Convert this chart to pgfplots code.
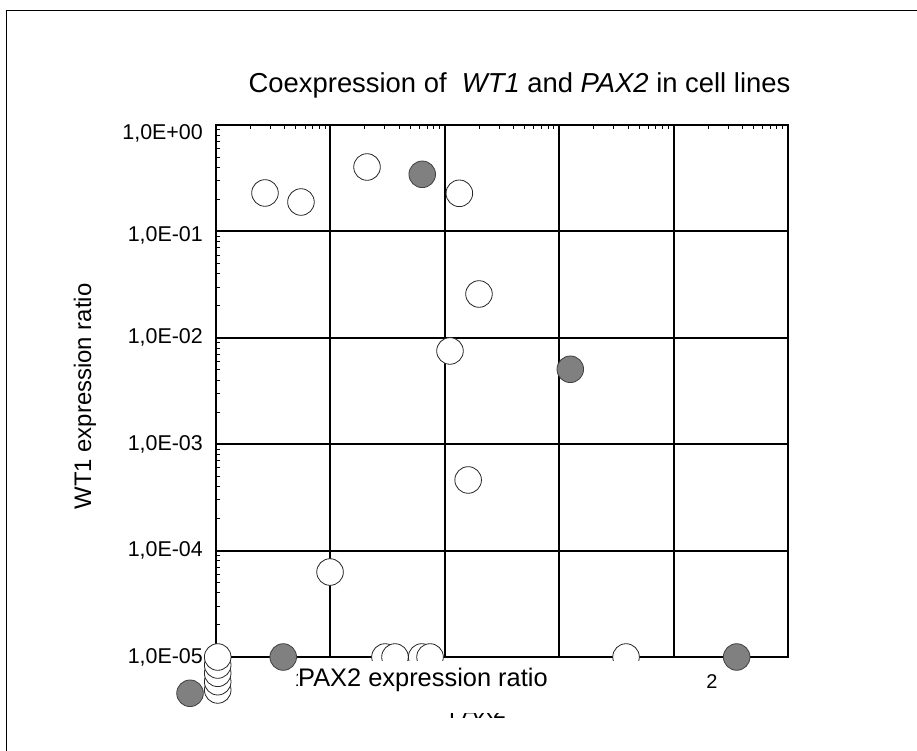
\documentclass[border=0pt]{standalone}
\usepackage{fontspec}
\setmainfont{Liberation Sans}
\usepackage{pgfplots}
\pgfplotsset{compat=1.18}
\begin{document}
\begin{tikzpicture}[x=1bp,y=1bp]
\useasboundingbox (0,0) rectangle (917,751);
\draw[line width=1.2bp] (6.5,0) -- (6.5,740.5) -- (917,740.5);
\begin{axis}[
  at={(216bp,94bp)}, anchor=south west,
  scale only axis, width=572bp, height=532bp,
  xmode=log, ymode=log,
  xmin=1e-3, xmax=1e2, ymin=1e-5, ymax=1,
  xtick={1e-3,1e-2,1e-1,1,1e1,1e2},
  ytick={1e-5,1e-4,1e-3,1e-2,1e-1,1},
  yticklabels={{1,0E-05},{1,0E-04},{1,0E-03},{1,0E-02},{\raisebox{-10.5bp}[0pt][0pt]{1,0E-01}},{\raisebox{-15bp}[0pt][0pt]{1,0E+00}}},
  xticklabels={,,,,,,},
  grid=major, major grid style={line width=2bp, black},
  axis line style={line width=2bp, black},
  tick align=inside, xtick pos=right, ytick pos=left,
  major tick length=0pt, minor tick length=4bp,
  every minor tick/.style={line width=1bp, black},
  yticklabel style={font=\fontsize{21.5}{25}\selectfont, inner sep=0pt, xshift=-13bp},
  clip=false,
]
\addplot[only marks, mark=*, mark size=13.3bp,
  mark options={fill=white, draw=black!85, line width=0.8bp}] coordinates {
  (1.035e-3,4.90e-6) (1.035e-3,5.86e-6) (1.035e-3,7.03e-6) (1.035e-3,8.41e-6) (1.035e-3,1.0e-5)
  (2.68e-3,0.2296) (5.53e-3,0.1889) (0.0209,0.4029) (0.134,0.228)
  (0.199,0.0258) (0.111,0.00752) (0.160,4.61e-4) (9.93e-3,6.29e-5)
  (0.0300,1e-5) (0.0367,1e-5) (0.0628,1e-5) (0.0743,1e-5) (3.84,1e-5)
};
\addplot[only marks, mark=*, mark size=13.3bp,
  mark options={fill=black!50, draw=black!75, line width=0.8bp}] coordinates {
  (0.0635,0.344) (1.25,5.06e-3) (3.87e-3,1e-5) (35.6,1e-5) (5.93e-4,4.56e-6)
};
\end{axis}
\node[font=\fontsize{20}{24}\selectfont] at (300.5,71) {1};
\node[font=\fontsize{20}{24}\selectfont] at (712,69.3) {2};
\node[anchor=base, inner sep=0pt, font=\fontsize{23}{27}\selectfont] at (477.5,32.5) {PAX2};
\fill[white] (298,38) rectangle (650,90);
\node[anchor=base west, inner sep=0pt, font=\fontsize{25.5}{30}\selectfont] at (298,64.3) {PAX2 expression ratio};
\node[anchor=base, inner sep=0pt, font=\fontsize{27.5}{32}\selectfont] at (519.5,658.3) {Coexpression of\ \ \textit{WT1} and \textit{PAX2} in cell lines};
\node[rotate=90, inner sep=0pt, font=\fontsize{24}{28}\selectfont] at (85,354.5) {WT1 expression ratio};
\end{tikzpicture}
\end{document}
